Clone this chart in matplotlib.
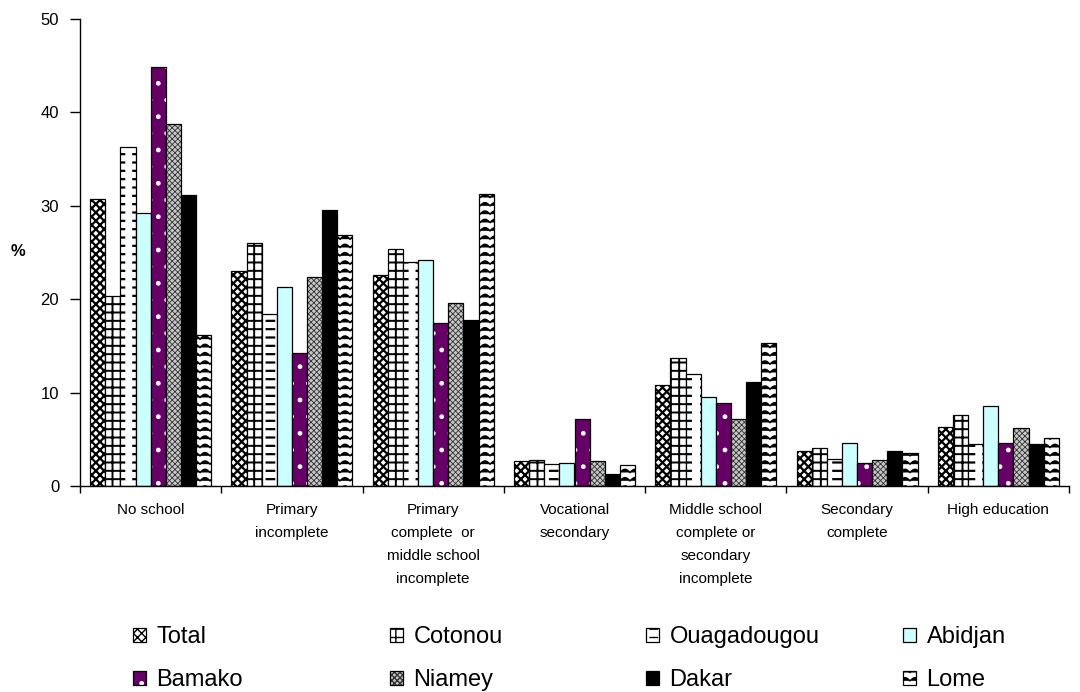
import warnings
import numpy as np
import matplotlib
matplotlib.use("Agg")
import matplotlib.pyplot as plt
import matplotlib.hatch as mhatch
from matplotlib.path import Path
from matplotlib.colors import to_rgba

warnings.filterwarnings("ignore")

# ---- data -----------------------------------------------------------------
categories = [
    "No school",
    "Primary\nincomplete",
    "Primary\ncomplete  or\nmiddle school\nincomplete",
    "Vocational\nsecondary",
    "Middle school\ncomplete or\nsecondary\nincomplete",
    "Secondary\ncomplete",
    "High education",
]
cities = ["Total", "Cotonou", "Ouagadougou", "Abidjan",
          "Bamako", "Niamey", "Dakar", "Lome"]

total       = [30.7, 23.0, 22.6, 2.7, 10.8, 3.8, 6.3]
cotonou     = [20.3, 26.0, 25.4, 2.8, 13.7, 4.1, 7.6]
ouagadougou = [36.3, 18.4, 24.0, 2.4, 12.0, 2.9, 4.5]
abidjan     = [29.2, 21.3, 24.2, 2.5, 9.5, 4.6, 8.6]
bamako      = [44.9, 14.2, 17.4, 7.2, 8.9, 2.5, 4.6]
niamey      = [38.8, 22.4, 19.6, 2.7, 7.2, 2.8, 6.2]
dakar       = [31.2, 29.5, 17.8, 1.3, 11.1, 3.7, 4.5]
lome        = [16.2, 26.9, 31.3, 2.2, 15.3, 3.5, 5.1]

series = [total, cotonou, ouagadougou, abidjan, bamako, niamey, dakar, lome]


# ---- extra hatch patterns: short dashes ('d') and waves ('w') -------------
class DashHatch(mhatch.HatchPatternBase):
    def __init__(self, hatch, density):
        self.num_rows = int(hatch.count('d') * density)
        self.num_dashes = 6
        self.num_vertices = self.num_rows * self.num_dashes * 2

    def set_vertices_and_codes(self, vertices, codes):
        period = 1.0 / self.num_dashes
        k = 0
        for r in range(self.num_rows):
            y = (r + 0.5) / self.num_rows
            for j in range(self.num_dashes):
                x0 = j * period
                vertices[k] = (x0, y)
                vertices[k + 1] = (x0 + 0.45 * period, y)
                codes[k] = Path.MOVETO
                codes[k + 1] = Path.LINETO
                k += 2


class WaveHatch(mhatch.HatchPatternBase):
    def __init__(self, hatch, density):
        self.num_rows = int(hatch.count('w') * density)
        self.num_waves = 10
        self.pts = self.num_waves * 8 + 1
        self.num_vertices = self.num_rows * self.pts

    def set_vertices_and_codes(self, vertices, codes):
        xs = np.linspace(0.0, 1.0, self.pts)
        amp = 0.032
        k = 0
        for r in range(self.num_rows):
            y = (r + 0.3) / self.num_rows
            ys = y + amp * np.abs(np.sin(np.pi * self.num_waves * xs))
            vertices[k:k + self.pts, 0] = xs
            vertices[k:k + self.pts, 1] = ys
            codes[k] = Path.MOVETO
            codes[k + 1:k + self.pts] = Path.LINETO
            k += self.pts


mhatch._hatch_types.extend([DashHatch, WaveHatch])

# ---- styling ----------------------------------------------------------------
plt.rcParams["font.family"] = ["Liberation Sans", "DejaVu Sans"]
plt.rcParams["hatch.linewidth"] = 1.0

styles = [
    dict(face="white",   hatch="xxxx",   hcol="black", hlw=1.6),  # Total
    dict(face="white",   hatch="++",     hcol="black", hlw=1.4),  # Cotonou
    dict(face="white",   hatch="dd",     hcol="black", hlw=1.6),  # Ouagadougou
    dict(face="#CCFFFF", hatch=None,     hcol="black", hlw=1.0),  # Abidjan
    dict(face="#660066", hatch=".",      hcol="white", hlw=1.0),  # Bamako
    dict(face="#C8C8C8", hatch="xxxxxx", hcol="#333333", hlw=0.6),  # Niamey
    dict(face="black",   hatch=None,     hcol="black", hlw=1.0),  # Dakar
    dict(face="white",   hatch="ww",     hcol="black", hlw=1.1),  # Lome
]

fig = plt.figure(figsize=(10.8, 6.92), dpi=100)
ax = fig.add_axes([80 / 1080, 1 - 486 / 692, (1069 - 80) / 1080, (486 - 19) / 692])

x = np.arange(len(categories))
n = len(series)
width = 0.107
offsets = (np.arange(n) - (n - 1) / 2) * width

containers = []
for vals, name, st, off in zip(series, cities, styles, offsets):
    bc = ax.bar(x + off, vals, width, color=st["face"], edgecolor="black",
                linewidth=0.9, hatch=st["hatch"], label=name, zorder=2)
    for p in bc:
        p._hatch_color = to_rgba(st["hcol"])
        if hasattr(p, "set_hatch_linewidth"):
            p.set_hatch_linewidth(st["hlw"])
    containers.append(bc)

ax.set_xlim(-0.5, len(categories) - 0.5)
ax.set_ylim(0, 50)
ax.set_yticks(np.arange(0, 51, 10))
ax.tick_params(axis="y", direction="out", length=7, width=1, labelsize=12, pad=8)

ax.set_xticks(x)
ax.set_xticklabels(categories, fontsize=11, linespacing=1.82, va="top")
ax.tick_params(axis="x", which="major", length=0, pad=12)
ax.set_xticks(np.arange(-0.5, len(categories), 1.0), minor=True)
ax.tick_params(axis="x", which="minor", direction="out", length=5, width=1)

for side in ("top", "right"):
    ax.spines[side].set_visible(False)
for side in ("left", "bottom"):
    ax.spines[side].set_linewidth(1.0)

fig.text(18 / 1080, 1 - 252 / 692, "%", fontsize=12, fontweight="bold",
         ha="center", va="center")

# legend: four columns of two entries each
col_x = [133, 390, 646, 903]
for c in range(4):
    hs = [containers[c], containers[c + 4]]
    ls = [cities[c], cities[c + 4]]
    fig.legend(hs, ls, loc="upper left",
               bbox_to_anchor=(col_x[c] / 1080, 1 - 626 / 692),
               frameon=False, fontsize=17, borderpad=0, borderaxespad=0,
               handlelength=0.55, handleheight=0.55, handletextpad=0.45,
               labelspacing=0.9)

fig.savefig("out.png", dpi=100)
